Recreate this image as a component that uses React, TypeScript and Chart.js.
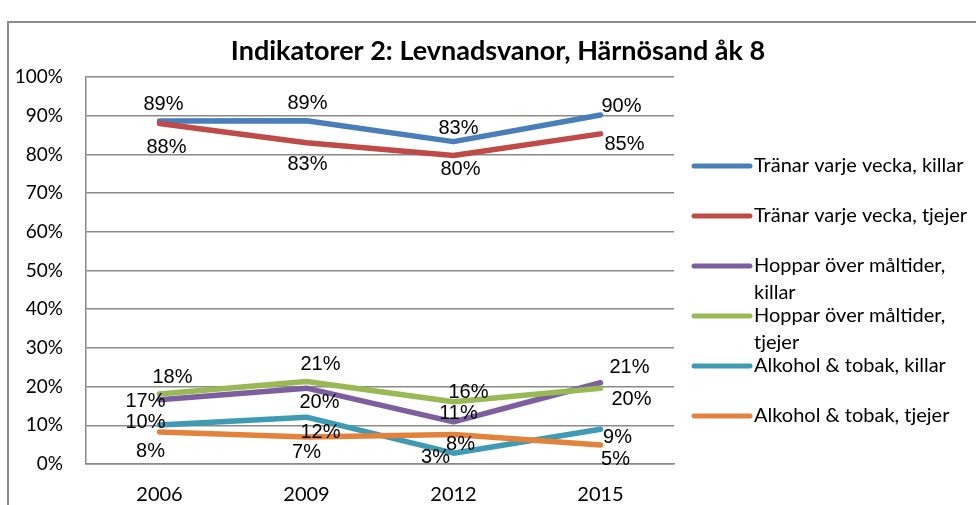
import { useEffect, useRef } from 'react';
import { Chart, registerables } from 'chart.js';

Chart.register(...registerables);

const TITLE = 'Indikatorer 2: Levnadsvanor, Härnösand åk 8';
const YEARS = ['2006', '2009', '2012', '2015'];
const SERIES_NAMES = [
  'Tränar varje vecka, killar',
  'Tränar varje vecka, tjejer',
  'Hoppar över måltider, killar',
  'Hoppar över måltider, tjejer',
  'Alkohol & tobak, killar',
  'Alkohol & tobak, tjejer',
];
const TRANAR_KILLAR = [88.6, 88.7, 83.3, 90.2];
const TRANAR_TJEJER = [88.0, 83.0, 79.7, 85.3];
const HOPPAR_KILLAR = [16.6, 19.6, 10.9, 21.0];
const HOPPAR_TJEJER = [18.1, 21.3, 16.1, 19.6];
const ALKOHOL_KILLAR = [10.1, 12.1, 2.8, 9.0];
const ALKOHOL_TJEJER = [8.3, 7.0, 7.6, 4.9];
const SERIES_VALUES = [TRANAR_KILLAR, TRANAR_TJEJER, HOPPAR_KILLAR, HOPPAR_TJEJER, ALKOHOL_KILLAR, ALKOHOL_TJEJER];

const COLORS = ['#4A7EBB', '#BE4B48', '#7D5FA0', '#98B954', '#3F9BB3', '#E3823A'];

// data label offsets (px) relative to each point: [dx, dy]
const LABEL_OFFSETS = [
  [[4, -17], [1, -17], [5, -13], [21, -8]],
  [[7, 24], [1, 22], [7, 14], [24, 11]],
  [[-14, 2], [13, 14], [5, -8], [29, -15]],
  [[13, -16], [14, -17], [15, -9], [31, 11]],
  [[-14, -2], [14, 15], [-18, 4], [17, 8]],
  [[-9, 20], [0, 16], [7, 10], [15, 14]],
];

const LABEL_FONT = '20px "Liberation Sans", Arial, sans-serif';
const LEGEND_FONT = '20px Lato, sans-serif';
const TITLE_FONT = 'bold 27px Lato, sans-serif';

const decorPlugin = {
  id: 'decor',
  beforeDraw(chart: any) {
    const ctx = chart.ctx;
    ctx.save();
    ctx.strokeStyle = '#8C8C8C';
    ctx.lineWidth = 2;
    ctx.strokeRect(8, 22, 1200, 1200);
    ctx.restore();
  },
  afterDatasetsDraw(chart: any) {
    const ctx = chart.ctx;
    ctx.save();
    ctx.font = LABEL_FONT;
    ctx.fillStyle = '#000';
    ctx.textAlign = 'center';
    ctx.textBaseline = 'middle';
    chart.data.datasets.forEach((ds: any, i: number) => {
      const meta = chart.getDatasetMeta(i);
      meta.data.forEach((el: any, j: number) => {
        const [dx, dy] = LABEL_OFFSETS[i][j];
        ctx.fillText(Math.round(ds.data[j]) + '%', el.x + dx, el.y + dy);
      });
    });
    ctx.restore();
  },
  afterDraw(chart: any) {
    const ctx = chart.ctx;
    ctx.save();
    // title
    ctx.font = TITLE_FONT;
    ctx.fillStyle = '#000';
    ctx.textAlign = 'center';
    ctx.textBaseline = 'middle';
    ctx.fillText(TITLE, 498, 51);
    // legend
    const lineX0 = 694;
    const lineX1 = 750;
    const textX = 754;
    const maxW = 218;
    ctx.font = LEGEND_FONT;
    ctx.textAlign = 'left';
    chart.data.datasets.forEach((ds: any, i: number) => {
      const y = 166 + i * 50;
      ctx.strokeStyle = ds.borderColor;
      ctx.lineWidth = 5;
      ctx.lineCap = 'round';
      ctx.beginPath();
      ctx.moveTo(lineX0, y);
      ctx.lineTo(lineX1, y);
      ctx.stroke();
      const words = String(ds.label).split(' ');
      const lines: string[] = [];
      let cur = '';
      words.forEach((w) => {
        const t = cur ? cur + ' ' + w : w;
        if (ctx.measureText(t).width > maxW && cur) {
          lines.push(cur);
          cur = w;
        } else cur = t;
      });
      if (cur) lines.push(cur);
      lines.forEach((ln, k) => ctx.fillText(ln, textX, y + k * 27));
    });
    ctx.restore();
  },
};

export default function App() {
  const ref = useRef<HTMLCanvasElement>(null);
  useEffect(() => {
    if (!ref.current) return;
    const chart = new Chart(ref.current, {
      type: 'line',
      data: {
        labels: YEARS,
        datasets: SERIES_VALUES.map((vals, i) => ({
          label: SERIES_NAMES[i],
          data: vals,
          borderColor: COLORS[i],
          backgroundColor: COLORS[i],
          borderWidth: 5.5,
          borderCapStyle: 'round',
          borderJoinStyle: 'round',
          pointRadius: 0,
          tension: 0,
          order: -i,
        })),
      },
      options: {
        responsive: false,
        animation: false,
        layout: { padding: { top: 77, right: 302, left: 0, bottom: 0 } },
        plugins: {
          legend: { display: false },
          title: { display: false },
          tooltip: { enabled: false },
        },
        scales: {
          x: {
            offset: true,
            grid: { display: false, drawTicks: false },
            border: { display: true, color: '#8A8A8A', width: 1.5 },
            ticks: { color: '#000', font: { family: 'Lato', size: 20 }, padding: 19 },
            afterFit: (s: any) => { s.height = 41; },
          },
          y: {
            min: 0,
            max: 100,
            grid: { color: '#8A8A8A', lineWidth: 1.5, drawTicks: false },
            border: { display: true, color: '#8A8A8A', width: 1.5 },
            ticks: {
              stepSize: 10,
              color: '#000',
              font: { family: 'Lato', size: 19 },
              padding: 23,
              callback: (v: any) => v + '%',
            },
            afterFit: (s: any) => { s.width = 86; },
          },
        },
      },
      plugins: [decorPlugin],
    });
    return () => chart.destroy();
  }, []);
  return (
    <div style={{ position: 'absolute', left: 0, top: 0, width: 976, height: 505, overflow: 'hidden', background: '#fff' }}>
      <canvas ref={ref} width={976} height={505} style={{ display: 'block' }} />
    </div>
  );
}
